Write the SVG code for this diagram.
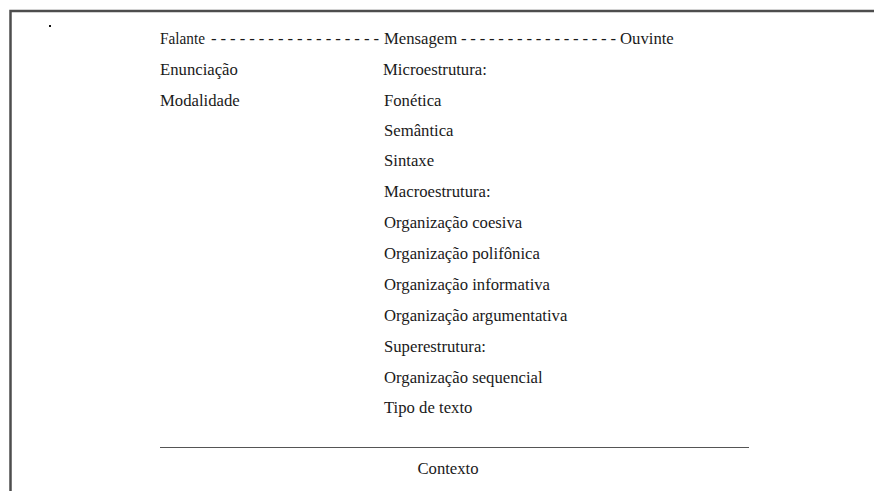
<svg xmlns="http://www.w3.org/2000/svg" width="874" height="491" viewBox="0 0 874 491">
<style>
.t{font-family:"Liberation Serif","Times New Roman","DejaVu Serif",serif;font-size:16.7px;fill:#1a1a1a}
.frame{stroke:#4d4d4d;stroke-width:2.5;fill:none}
</style>
<rect width="874" height="491" fill="#ffffff"/>
<g id="frame">
<path class="frame" d="M10.5 491 V11 H874"/>
<rect x="49" y="25" width="2" height="2" fill="#111"/>
</g>
<g id="header">
<text class="t" x="160" y="44" textLength="45" lengthAdjust="spacingAndGlyphs">Falante</text>
<text class="t" x="211" y="44" textLength="168" lengthAdjust="spacing">- - - - - - - - - - - - - - - - - -</text>
<text class="t" x="384" y="44">Mensagem</text>
<text class="t" x="461" y="44" textLength="155" lengthAdjust="spacing">- - - - - - - - - - - - - - - - -</text>
<text class="t" x="620" y="44">Ouvinte</text>
</g>
<g id="falante-col">
<text class="t" x="160" y="75">Enunciação</text>
<text class="t" x="160" y="105.5">Modalidade</text>
</g>
<g id="mensagem-col">
<text class="t" x="383" y="75">Microestrutura:</text>
<text class="t" x="384" y="105.5">Fonética</text>
<text class="t" x="384" y="136">Semântica</text>
<text class="t" x="384" y="166">Sintaxe</text>
<text class="t" x="384" y="197">Macroestrutura:</text>
<text class="t" x="384" y="228">Organização coesiva</text>
<text class="t" x="384" y="259">Organização polifônica</text>
<text class="t" x="384" y="290">Organização informativa</text>
<text class="t" x="384" y="320.5">Organização argumentativa</text>
<text class="t" x="384" y="351.5">Superestrutura:</text>
<text class="t" x="384" y="382.5">Organização sequencial</text>
<text class="t" x="384" y="413">Tipo de texto</text>
</g>
<g id="contexto">
<line x1="160" y1="447.5" x2="749" y2="447.5" stroke="#555" stroke-width="1.2"/>
<text class="t" x="448" y="474" text-anchor="middle">Contexto</text>
</g>
</svg>
